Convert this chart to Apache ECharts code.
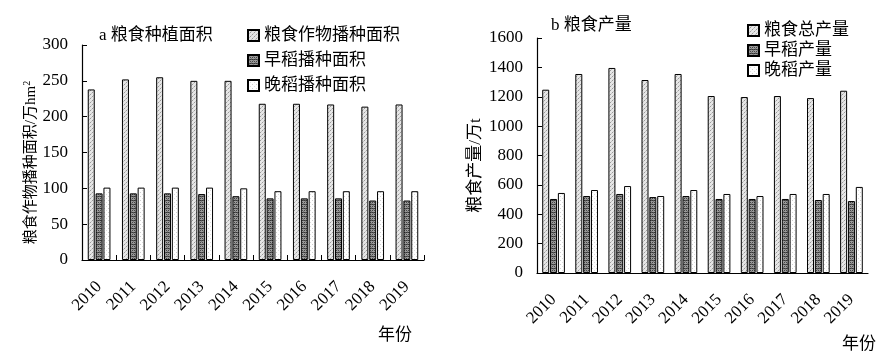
<!DOCTYPE html>
<html>
<head>
<meta charset="utf-8">
<script src="https://cdn.jsdelivr.net/npm/echarts@6/dist/echarts.min.js"></script>
<style>
  html, body { margin: 0; padding: 0; background: #fff; }
  #main { width: 882px; height: 354px; }
</style>
</head>
<body>
<div id="main"></div>
<script>
var years = ['2010', '2011', '2012', '2013', '2014', '2015', '2016', '2017', '2018', '2019'];

// a 粮食种植面积 (万hm2)
var grainArea = [238, 252, 255, 250, 250, 218, 218, 217, 214, 217];
var earlyRiceArea = [93, 93, 93, 92, 89, 86, 86, 86, 83, 83];
var lateRiceArea = [101, 101, 101, 101, 100, 96, 96, 96, 96, 96];

// b 粮食产量 (万t)
var grainOutput = [1248, 1355, 1396, 1314, 1355, 1205, 1198, 1205, 1191, 1241];
var earlyRiceOutput = [504, 524, 538, 517, 524, 504, 504, 504, 497, 490];
var lateRiceOutput = [545, 565, 592, 524, 565, 538, 524, 538, 538, 586];

var serif = '"Liberation Serif", "Noto Sans CJK SC", serif';

// 填充纹理
function makePattern(bg, dots, size) {
  var c = document.createElement('canvas');
  c.width = size; c.height = size;
  var ctx = c.getContext('2d');
  ctx.fillStyle = bg;
  ctx.fillRect(0, 0, size, size);
  dots.forEach(function (d) {
    ctx.fillStyle = d[2];
    ctx.fillRect(d[0], d[1], 1, 1);
  });
  return { image: c, repeat: 'repeat' };
}
var patLight = makePattern('#e6e6e6', [[0, 0, '#9a9a9a'], [2, 2, '#9a9a9a'], [1, 3, '#c4c4c4'], [3, 1, '#c4c4c4']], 4);
var patDark = makePattern('#9a9a9a', [[0, 0, '#333'], [1, 0, '#555'], [2, 0, '#333'], [3, 0, '#555'], [0, 2, '#444'], [2, 2, '#444'], [1, 1, '#777'], [3, 3, '#777']], 4);
var patWhite = makePattern('#ffffff', [[0, 0, '#cfcfcf'], [2, 2, '#dedede']], 4);

function barSeries(name, data, pat, idx) {
  return {
    name: name,
    type: 'bar',
    xAxisIndex: idx,
    yAxisIndex: idx,
    data: data,
    barWidth: 7,
    barGap: '12%',
    itemStyle: { color: pat, borderColor: '#000', borderWidth: 1 }
  };
}

function xAxisOf(idx, showTick) {
  return {
    type: 'category',
    gridIndex: idx,
    data: years,
    axisLine: { lineStyle: { color: '#000', width: 1.2 } },
    axisTick: { show: showTick, inside: true, length: 5, lineStyle: { color: '#000' } },
    axisLabel: { rotate: 45, color: '#000', fontFamily: serif, fontSize: 17, margin: 24, interval: 0 }
  };
}

function yAxisOf(idx, max, interval, name, gap, fs) {
  return {
    type: 'value',
    gridIndex: idx,
    min: 0,
    max: max,
    interval: interval,
    name: name,
    nameLocation: 'middle',
    nameGap: gap,
    nameTextStyle: {
      color: '#000', fontFamily: serif, fontSize: fs, padding: [0, 20, 0, 0],
      rich: { sup: { fontSize: 10, verticalAlign: 'top', padding: [0, 0, 8, 0], fontFamily: serif, color: '#000' } }
    },
    axisLine: { show: true, lineStyle: { color: '#000', width: 1.2 } },
    axisTick: { show: true, inside: true, length: 5, lineStyle: { color: '#000' } },
    axisLabel: { color: '#000', fontFamily: serif, fontSize: 17, margin: 14, formatter: function (v) { return String(v); } },
    splitLine: { show: false }
  };
}

var chart = echarts.init(document.getElementById('main'));
chart.setOption({
  animation: false,
  backgroundColor: '#fff',
  title: [
    { text: 'a 粮食种植面积', left: 94, top: 22, textStyle: { fontFamily: serif, fontSize: 17, fontWeight: 'normal', color: '#000' } },
    { text: 'b 粮食产量', left: 546, top: 12, textStyle: { fontFamily: serif, fontSize: 17, fontWeight: 'normal', color: '#000' } },
    { text: '年份', left: 373, top: 322, textStyle: { fontFamily: serif, fontSize: 17, fontWeight: 'normal', color: '#000' } },
    { text: '年份', left: 837, top: 331, textStyle: { fontFamily: serif, fontSize: 17, fontWeight: 'normal', color: '#000' } }
  ],
  legend: [
    {
      orient: 'vertical', left: 242, top: 22, icon: 'rect', itemWidth: 11, itemHeight: 11, itemGap: 8,
      data: ['粮食作物播种面积', '早稻播种面积', '晚稻播种面积'],
      textStyle: { fontFamily: serif, fontSize: 17, color: '#000' }
    },
    {
      orient: 'vertical', left: 742, top: 17, icon: 'rect', itemWidth: 11, itemHeight: 11, itemGap: 3,
      data: ['粮食总产量', '早稻产量', '晚稻产量'],
      textStyle: { fontFamily: serif, fontSize: 17, color: '#000' }
    }
  ],
  grid: [
    { left: 82, top: 45, width: 342, height: 215 },
    { left: 537, top: 38, width: 331, height: 235 }
  ],
  xAxis: [xAxisOf(0, true), xAxisOf(1, false)],
  yAxis: [
    yAxisOf(0, 300, 50, '粮食作物播种面积/万hm{sup|2}', 40, 15),
    yAxisOf(1, 1600, 200, '粮食产量/万t', 53, 17)
  ],
  series: [
    barSeries('粮食作物播种面积', grainArea, patLight, 0),
    barSeries('早稻播种面积', earlyRiceArea, patDark, 0),
    barSeries('晚稻播种面积', lateRiceArea, patWhite, 0),
    barSeries('粮食总产量', grainOutput, patLight, 1),
    barSeries('早稻产量', earlyRiceOutput, patDark, 1),
    barSeries('晚稻产量', lateRiceOutput, patWhite, 1)
  ]
});
</script>
</body>
</html>
